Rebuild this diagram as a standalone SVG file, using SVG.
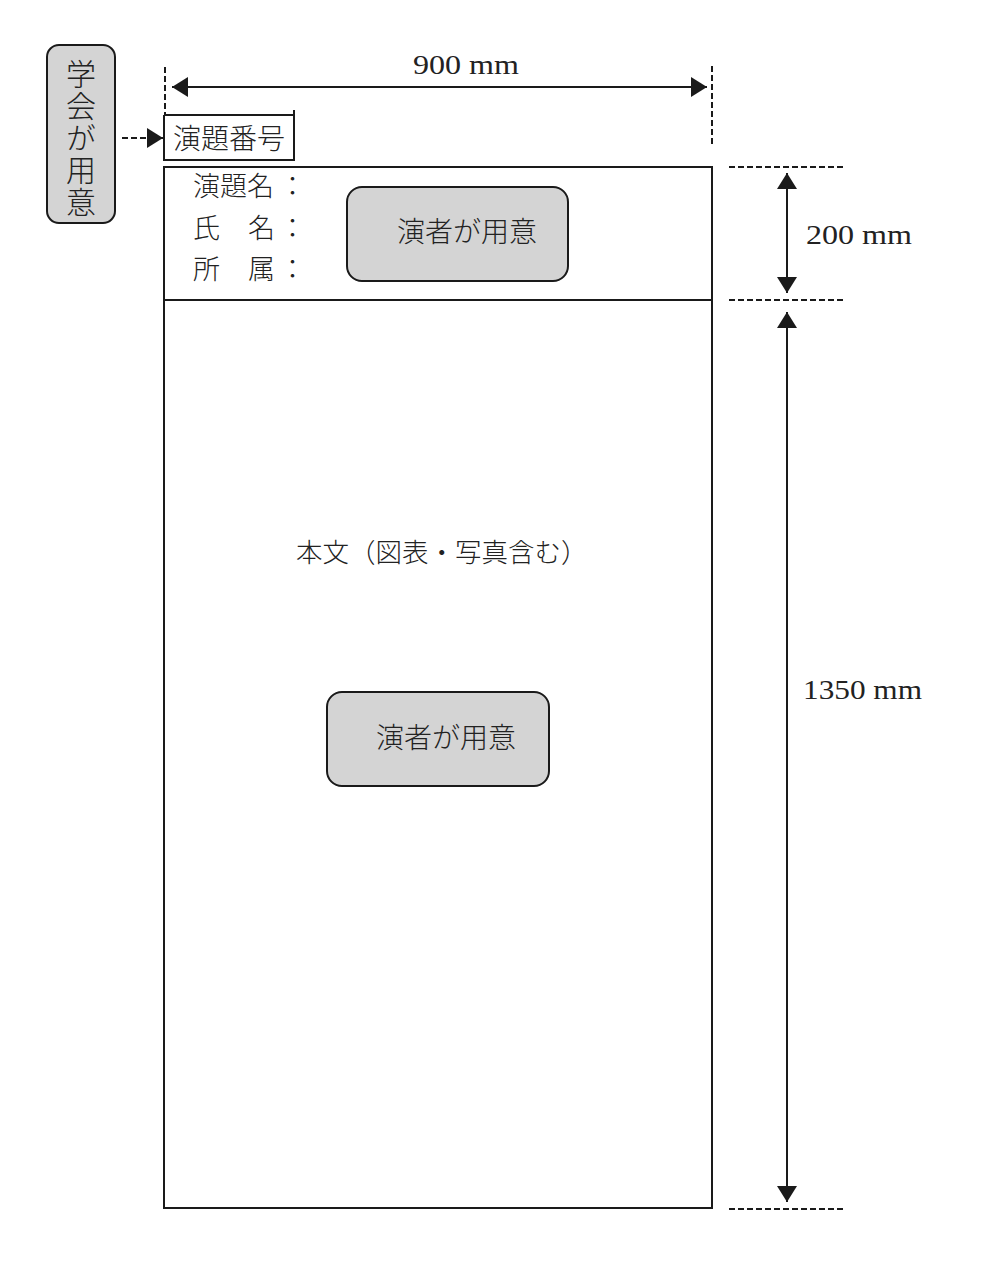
<svg xmlns="http://www.w3.org/2000/svg" width="1000" height="1279" viewBox="0 0 1000 1279">
<defs>
<style>
.ln{stroke:#1a1a1a;stroke-width:2;fill:none}
.ds{stroke:#1a1a1a;stroke-width:2;fill:none;stroke-dasharray:6 3}
.gray{fill:#d4d4d4;stroke:#1a1a1a;stroke-width:2}
.jp{font-family:"Noto Sans CJK JP","Noto Sans CJK SC",sans-serif;fill:#222;font-weight:300}
.en{font-family:"Liberation Serif","DejaVu Serif",serif;fill:#222}
</style>
<marker id="ah" viewBox="0 0 16 20" refX="16" refY="10" markerWidth="16" markerHeight="20" markerUnits="userSpaceOnUse" orient="auto-start-reverse">
<path d="M0,0 L16,10 L0,20 Z" fill="#1a1a1a"/>
</marker>
</defs>
<rect width="1000" height="1279" fill="#ffffff"/>

<g id="connectors">
<line class="ds" x1="165" y1="67" x2="165" y2="115"/>
<line class="ds" x1="712" y1="66" x2="712" y2="147"/>
<line class="ln" x1="172" y1="87" x2="707" y2="87" marker-start="url(#ah)" marker-end="url(#ah)"/>
<line class="ds" x1="122" y1="138" x2="163" y2="138" marker-end="url(#ah)"/>
<line class="ds" x1="729" y1="167" x2="845" y2="167"/>
<line class="ds" x1="729" y1="300" x2="845" y2="300"/>
<line class="ds" x1="729" y1="1209" x2="845" y2="1209"/>
<line class="ln" x1="787" y1="173" x2="787" y2="293" marker-start="url(#ah)" marker-end="url(#ah)"/>
<line class="ln" x1="787" y1="312" x2="787" y2="1202" marker-start="url(#ah)" marker-end="url(#ah)"/>
</g>

<g id="dim-900">
<text class="en" x="413" y="74" font-size="28" textLength="106" lengthAdjust="spacingAndGlyphs">900 mm</text>
</g>
<g id="dim-200">
<text class="en" x="806" y="244" font-size="28" textLength="106" lengthAdjust="spacingAndGlyphs">200 mm</text>
</g>
<g id="dim-1350">
<text class="en" x="803" y="699" font-size="28" textLength="119" lengthAdjust="spacingAndGlyphs">1350 mm</text>
</g>

<g id="gakkai">
<rect class="gray" x="47" y="45" width="68" height="178" rx="12"/>
<text class="jp" x="81" y="59" font-size="30" writing-mode="vertical-rl" letter-spacing="2">学会が用意</text>
</g>

<g id="endai-bango">
<path class="ln" d="M164,115 H294 M294,110 V160 H164 V115"/>
<text class="jp" x="173" y="149" font-size="28">演題番号</text>
</g>

<g id="poster">
<rect class="ln" x="164" y="167" width="548" height="1041"/>
<line class="ln" x1="164" y1="300" x2="712" y2="300"/>
</g>

<g id="header-labels">
<text class="jp" x="193" y="196" font-size="27">演題名<tspan x="279">：</tspan></text>
<text class="jp" x="193" y="238" font-size="27">氏<tspan x="248">名</tspan><tspan x="279">：</tspan></text>
<text class="jp" x="193" y="279" font-size="27">所<tspan x="248">属</tspan><tspan x="279">：</tspan></text>
</g>

<g id="enja-1">
<rect class="gray" x="347" y="187" width="221" height="94" rx="15"/>
<text class="jp" x="397" y="242" font-size="28">演者が用意</text>
</g>

<g id="honbun">
<text class="jp" x="296" y="562" font-size="26.5">本文（図表・写真含む）</text>
</g>

<g id="enja-2">
<rect class="gray" x="327" y="692" width="222" height="94" rx="15"/>
<text class="jp" x="376" y="748" font-size="28">演者が用意</text>
</g>
</svg>
